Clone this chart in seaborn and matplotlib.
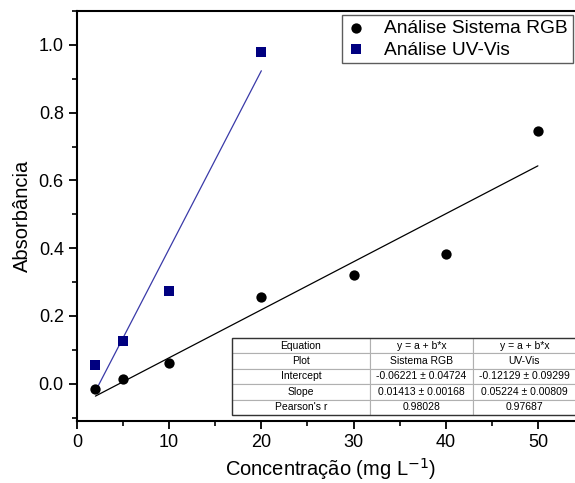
import numpy as np
import pandas as pd
import matplotlib
matplotlib.use("Agg")
import matplotlib.pyplot as plt
import seaborn as sns
from matplotlib.ticker import MultipleLocator, FormatStrFormatter
from matplotlib.patches import Rectangle

# data
conc_rgb = [2, 5, 10, 20, 30, 40, 50]
abs_rgb = [-0.015, 0.015, 0.062, 0.255, 0.32, 0.384, 0.747]
conc_uv = [2, 5, 10, 20]
abs_uv = [0.055, 0.125, 0.275, 0.98]

table_rows = ["Equation", "Plot", "Intercept", "Slope", "Pearson's r"]
table_rgb = ["y = a + b*x", "Sistema RGB", "-0.06221 \u00b1 0.04724", "0.01413 \u00b1 0.00168", "0.98028"]
table_uv = ["y = a + b*x", "UV-Vis", "-0.12129 \u00b1 0.09299", "0.05224 \u00b1 0.00809", "0.97687"]

df_rgb = pd.DataFrame({"x": conc_rgb, "y": abs_rgb})
df_uv = pd.DataFrame({"x": conc_uv, "y": abs_uv})

sns.set_style("ticks")
plt.rcParams["font.family"] = ["Liberation Sans", "DejaVu Sans"]
plt.rcParams["text.color"] = "black"
plt.rcParams["axes.labelcolor"] = "black"
plt.rcParams["xtick.color"] = "black"
plt.rcParams["ytick.color"] = "black"
plt.rcParams["axes.edgecolor"] = "black"

fig = plt.figure(figsize=(5.75, 4.83), dpi=100)
ax = fig.add_axes([0.1339, 0.1284, 0.8817, 0.8489])

navy = "#000080"

# fit lines
sns.regplot(data=df_rgb, x="x", y="y", ax=ax, scatter=False, ci=None, truncate=True,
            line_kws={"color": "black", "lw": 0.9})
sns.regplot(data=df_uv, x="x", y="y", ax=ax, scatter=False, ci=None, truncate=True,
            line_kws={"color": "#3a3aa8", "lw": 0.9})

# points
sns.scatterplot(data=df_rgb, x="x", y="y", ax=ax, marker="o", s=55, color="black",
                edgecolor="black", linewidth=0, label="Análise Sistema RGB", zorder=3)
sns.scatterplot(data=df_uv, x="x", y="y", ax=ax, marker="s", s=46, color=navy,
                edgecolor=navy, linewidth=0, label="Análise UV-Vis", zorder=3)

ax.set_xlim(0, 55)
ax.set_ylim(-0.11, 1.1)
ax.xaxis.set_major_locator(MultipleLocator(10))
ax.xaxis.set_minor_locator(MultipleLocator(5))
ax.yaxis.set_major_locator(MultipleLocator(0.2))
ax.yaxis.set_minor_locator(MultipleLocator(0.1))
ax.tick_params(which="major", direction="out", length=6, width=1.3, labelsize=13)
ax.tick_params(which="minor", direction="out", length=3.5, width=1.2)
ax.yaxis.set_major_formatter(FormatStrFormatter("%.1f"))
for sp in ax.spines.values():
    sp.set_linewidth(1.5)

ax.set_xlabel("Concentração (mg L$^{-1}$)", fontsize=14.5)
ax.xaxis.set_label_coords(0.5, -0.085)
ax.set_ylabel("Absorbância", fontsize=14.5, labelpad=5)

leg = ax.legend(loc="upper left", bbox_to_anchor=(0.523, 0.99), borderaxespad=0,
                fontsize=13.8, frameon=True, fancybox=False, edgecolor="#333333",
                handlelength=0.9, handletextpad=1.05, borderpad=0.25, labelspacing=0.2)
leg.get_frame().set_linewidth(1.0)

# statistics table
cells = [[r, a, b] for r, a, b in zip(table_rows, table_rgb, table_uv)]
tb = ax.table(cellText=cells, cellLoc="center", colWidths=[138, 103, 103],
              bbox=[0.3057, 0.0146, 0.6785, 0.1878])
tb.auto_set_font_size(False)
tb.set_fontsize(7.5)
for cell in tb.get_celld().values():
    cell.set_edgecolor("#b0b0b0")
    cell.set_linewidth(0.8)
    cell.set_facecolor("white")
ax.add_patch(Rectangle((0.3057, 0.0146), 0.6785, 0.1878, transform=ax.transAxes,
                       fill=False, edgecolor="#333333", lw=1.0, zorder=10))

fig.savefig("out.png", dpi=100)
